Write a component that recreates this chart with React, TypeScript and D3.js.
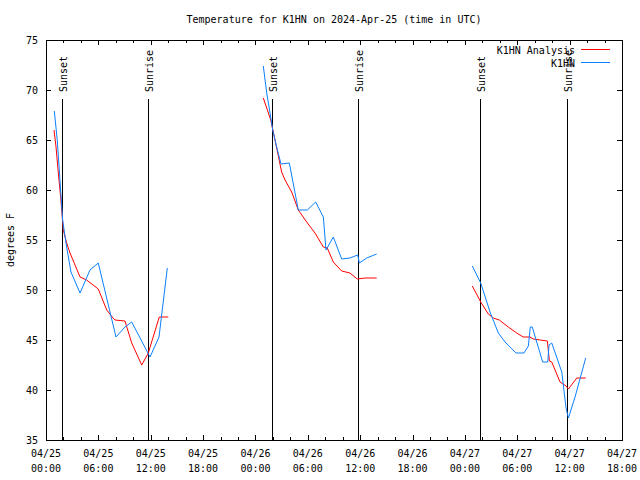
import React, { useEffect } from "react";
import * as d3 from "d3";

const title = "Temperature for K1HN on 2024-Apr-25 (time in UTC)";
const yLabel = "degrees F";
const seriesNames = ["K1HN Analysis", "K1HN"];
const seriesColors = ["#ff0000", "#0a80ff"];

// hours after 2024-04-25 00:00 UTC
const sunsetHours = [1.88, 25.85, 49.78];
const sunriseHours = [11.72, 35.7, 59.65];

const obsHours1 = [0.95, 1.29, 1.6, 1.91, 2.29, 2.86, 3.9, 5.04, 5.99, 8.02, 9.05, 9.82, 11.92, 12.95, 13.9];
const obsTemps1 = [67.9, 65.0, 61.0, 57.0, 54.7, 51.8, 49.7, 52.0, 52.7, 45.3, 46.3, 46.8, 43.3, 45.3, 52.2];
const anaHours1 = [0.92, 1.15, 1.41, 1.68, 1.98, 2.37, 2.75, 3.9, 4.66, 5.99, 6.96, 7.68, 7.9, 9.05, 9.82, 10.97, 11.72, 12.98, 14.01];
const anaTemps1 = [66.0, 64.3, 61.7, 59.3, 56.0, 54.7, 53.7, 51.3, 51.0, 50.1, 48.0, 47.2, 47.0, 46.9, 44.7, 42.5, 43.7, 47.3, 47.3];

const obsHours2 = [24.9, 25.29, 25.67, 25.98, 26.43, 26.93, 27.88, 28.91, 29.94, 30.9, 31.78, 32.08, 32.92, 33.88, 34.83, 35.72, 35.9, 36.75, 37.89];
const obsTemps2 = [72.4, 69.7, 67.7, 66.0, 64.3, 62.6, 62.7, 58.0, 58.0, 58.8, 57.3, 54.0, 55.3, 53.1, 53.2, 53.5, 52.7, 53.2, 53.6];
const anaHours2 = [24.9, 25.29, 25.75, 26.24, 27.0, 27.39, 28.15, 28.91, 29.87, 30.82, 31.78, 32.23, 32.92, 33.88, 34.83, 35.67, 36.55, 37.89];
const anaTemps2 = [69.2, 68.2, 67.0, 65.0, 61.8, 61.0, 59.8, 58.0, 56.8, 55.7, 54.3, 54.2, 52.8, 51.9, 51.7, 51.1, 51.2, 51.2];

const obsHours3 = [48.85, 49.81, 50.88, 51.83, 52.6, 53.86, 54.77, 55.27, 55.49, 55.72, 56.91, 57.49, 57.64, 57.95, 59.1, 59.59, 59.86, 60.62, 61.84];
const obsTemps3 = [52.4, 50.7, 47.8, 45.7, 44.8, 43.7, 43.7, 44.4, 46.3, 46.3, 42.8, 42.8, 44.5, 44.7, 41.8, 38.2, 37.2, 39.3, 43.2];
const anaHours3 = [48.85, 49.81, 50.68, 51.26, 51.94, 52.97, 53.93, 54.69, 55.46, 55.84, 56.61, 57.45, 57.68, 57.95, 58.9, 59.59, 59.86, 60.82, 61.84];
const anaTemps3 = [50.4, 48.8, 47.6, 47.2, 47.0, 46.3, 45.7, 45.3, 45.3, 45.1, 45.0, 44.9, 42.9, 42.8, 40.8, 40.4, 40.1, 41.2, 41.2];

const yTicks = [35, 40, 45, 50, 55, 60, 65, 70, 75];

const base = Date.UTC(2024, 3, 25, 0, 0);
const toDate = (h: number) => new Date(base + h * 3600e3);

const W = 640, H = 480;
const L = 46, R = 622, T = 40, B = 440;
const FONT = "'DejaVu Sans Mono', monospace";

export default function App() {
  useEffect(() => {
    document.body.style.margin = "0";
  }, []);

  const x = d3.scaleUtc().domain([toDate(0), toDate(66)]).range([L, R]);
  const y = d3.scaleLinear().domain([35, 75]).range([B, T]);
  const line = d3.line<[number, number]>().x(d => x(toDate(d[0]))).y(d => y(d[1]));

  const pairs = (hs: number[], ts: number[]) => hs.map((h, i) => [h, ts[i]] as [number, number]);
  const ana = [pairs(anaHours1, anaTemps1), pairs(anaHours2, anaTemps2), pairs(anaHours3, anaTemps3)];
  const obs = [pairs(obsHours1, obsTemps1), pairs(obsHours2, obsTemps2), pairs(obsHours3, obsTemps3)];

  const majorX = d3.utcHour.every(6)!.range(toDate(0), toDate(66.01));
  const minorX = d3.utcHour.every(2)!.range(toDate(0), toDate(66.01));
  const fmtD = d3.utcFormat("%m/%d");
  const fmtT = d3.utcFormat("%H:%M");

  const markers = [
    ...sunsetHours.map(h => ({ h, label: "Sunset" })),
    ...sunriseHours.map(h => ({ h, label: "Sunrise" })),
  ];

  return (
    <svg width={W} height={H} style={{ display: "block", background: "#fff" }} fontFamily={FONT} fontSize={10}>
      <rect x={0} y={0} width={W} height={H} fill="#fff" />
      <text x={(L + R) / 2} y={23} textAnchor="middle">{title}</text>
      <g shapeRendering="crispEdges" stroke="#000">
        {minorX.map((d, i) => {
          const xx = Math.round(x(d)) + 0.5;
          const maj = d.getUTCHours() % 6 === 0;
          const len = maj ? 5 : 3;
          return (
            <g key={i}>
              <line x1={xx} x2={xx} y1={B} y2={B - len} />
              <line x1={xx} x2={xx} y1={T} y2={T + len} />
            </g>
          );
        })}
        {yTicks.map((v, i) => {
          const yy = Math.round(y(v)) + 0.5;
          return (
            <g key={i}>
              <line x1={L} x2={L + 5} y1={yy} y2={yy} />
              <line x1={R} x2={R - 5} y1={yy} y2={yy} />
            </g>
          );
        })}
        {markers.map((m, i) => {
          const xx = Math.round(x(toDate(m.h))) + 0.5;
          return <line key={i} x1={xx} x2={xx} y1={y(35)} y2={y(69.1)} />;
        })}
        <rect x={L + 0.5} y={T + 0.5} width={R - L} height={B - T} fill="none" />
      </g>
      {markers.map((m, i) => {
        const xx = Math.round(x(toDate(m.h))) + 5;
        const yy = y(69.8);
        return (
          <text key={i} transform={`translate(${xx},${yy}) rotate(-90)`} textAnchor="start">{m.label}</text>
        );
      })}
      {yTicks.map((v, i) => (
        <text key={i} x={L - 8} y={y(v) + 4} textAnchor="end">{v}</text>
      ))}
      {majorX.map((d, i) => (
        <g key={i}>
          <text x={x(d)} y={457} textAnchor="middle">{fmtD(d)}</text>
          <text x={x(d)} y={472} textAnchor="middle">{fmtT(d)}</text>
        </g>
      ))}
      <text transform={`translate(14,${(T + B) / 2}) rotate(-90)`} textAnchor="middle">{yLabel}</text>
      {ana.map((seg, i) => (
        <path key={"a" + i} d={line(seg) || ""} fill="none" stroke={seriesColors[0]} strokeWidth={1} />
      ))}
      {obs.map((seg, i) => (
        <path key={"o" + i} d={line(seg) || ""} fill="none" stroke={seriesColors[1]} strokeWidth={1} />
      ))}
      {seriesNames.map((n, i) => (
        <g key={n}>
          <text x={575} y={54 + i * 13} textAnchor="end">{n}</text>
          <line x1={581} x2={610} y1={49.5 + i * 13} y2={49.5 + i * 13} stroke={seriesColors[i]} strokeWidth={1} shapeRendering="crispEdges" />
        </g>
      ))}
    </svg>
  );
}
